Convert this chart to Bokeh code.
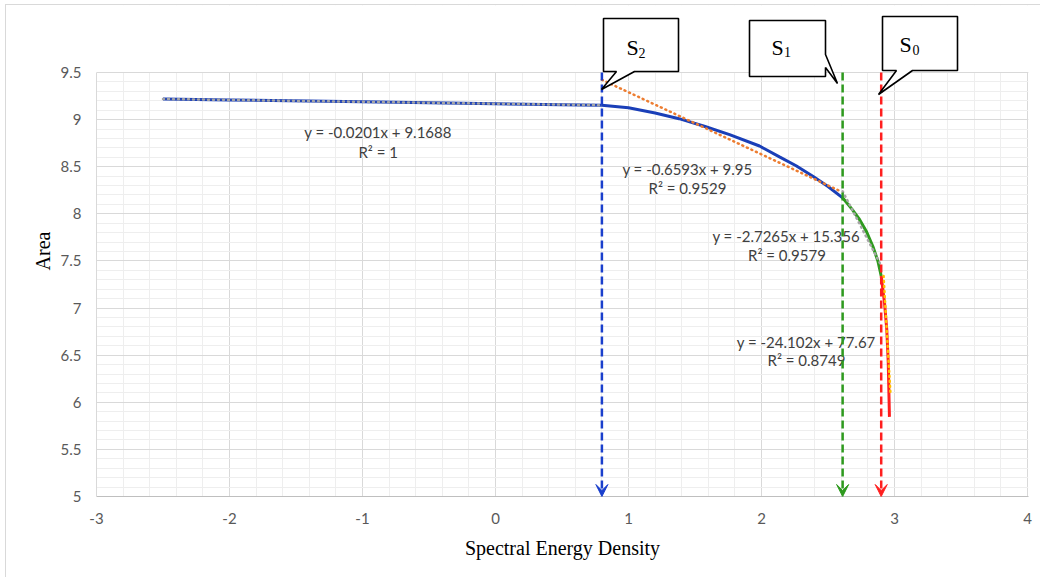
import numpy as np
from bokeh.plotting import figure
from bokeh.models import (Range1d, SingleIntervalTicker, NumeralTickFormatter, Label,
                          PolyAnnotation, Arrow, VeeHead)
from bokeh.embed import file_html
from bokeh.resources import INLINE

# ---------------- data ----------------
# curve segments (Spectral Energy Density, Area)
seg1_x = [-2.5, -2.0, -1.0, 0.0, 0.5, 0.8]
seg1_y = [9.219, 9.209, 9.189, 9.169, 9.159, 9.153]
seg2_x = [0.8, 1.0, 1.2, 1.38, 1.57, 1.76, 1.985, 2.135, 2.26, 2.386, 2.5, 2.61]
seg2_y = [9.153, 9.125, 9.07, 9.01, 8.93, 8.84, 8.72, 8.605, 8.51, 8.40, 8.29, 8.17]
seg3_x = [2.61, 2.68, 2.737, 2.79, 2.837, 2.875, 2.90]
seg3_y = [8.17, 8.05, 7.94, 7.81, 7.656, 7.50, 7.34]
seg4_x = [2.90, 2.925, 2.942, 2.953, 2.962]
seg4_y = [7.34, 7.055, 6.77, 6.42, 5.845]
seg_colors = ["#1a3fb8", "#1a3fb8", "#2e9a1e", "#ff1f1f"]

# linear trend lines
trend_slopes = [-0.0201, -0.6593, -2.7265, -24.102]
trend_intercepts = [9.1688, 9.95, 15.356, 77.67]
trend_r2 = ["1", "0.9529", "0.9579", "0.8749"]
trend_x_from = [-2.5, 0.8, 2.61, 2.918]
trend_x_to = [0.8, 2.6, 2.9, 2.97]
trend_colors = ["#a5a5a5", "#ed7d31", "#a5a5a5", "#ffc000"]

# stage markers
stage_names = ["2", "1", "0"]
stage_x = [0.8, 2.61, 2.9]
stage_colors = ["#1a3fcc", "#2e9a1e", "#ff1f1f"]

x_label = "Spectral Energy Density"
y_label = "Area"
x_min, x_max = -3, 4
y_min, y_max = 5, 9.5

# ---------------- helpers (page pixel -> data, for annotations) ----------------
PX_PER_X = 133.0
PX_PER_Y = 94.2

def X(px):
    return (px - 496.0) / PX_PER_X

def Y(py):
    return 9.5 - (py - 73.0) / PX_PER_Y

# canvas sits at page (7, 6) because of the css border/margin
p = figure(width=1035, height=573,
           x_range=Range1d(x_min, x_max + 1.0 / PX_PER_X), y_range=Range1d(y_min, Y(6)),
           output_backend="svg", toolbar_location=None,
           min_border_left=90, min_border_right=13, min_border_top=0, min_border_bottom=82,
           styles={"margin-left": "5px", "margin-top": "4px",
                   "border-left": "1px solid #d9d9d9", "border-top": "1px solid #d9d9d9"})
p.background_fill_color = "white"
p.border_fill_color = "white"
p.outline_line_color = None

xt = SingleIntervalTicker(interval=1, num_minor_ticks=5)
yt = SingleIntervalTicker(interval=0.5, num_minor_ticks=5)
p.xaxis.ticker = xt
p.yaxis.ticker = yt
p.xgrid.ticker = xt
p.ygrid.ticker = yt
for g in (p.xgrid, p.ygrid):
    g.grid_line_color = "#d9d9d9"
    g.grid_line_width = 1
    g.minor_grid_line_color = "#eeeeee"
    g.minor_grid_line_width = 1

p.xaxis.formatter = NumeralTickFormatter(format="0")
p.yaxis.formatter = NumeralTickFormatter(format="0.[0]")
p.yaxis.bounds = (y_min, y_max)
for ax in (p.xaxis, p.yaxis):
    ax.major_tick_line_color = None
    ax.minor_tick_line_color = None
    ax.major_label_text_font = "Lato"
    ax.major_label_text_font_size = "15px"
    ax.major_label_text_color = "#595959"
    ax.axis_label_text_font = "Liberation Serif"
    ax.axis_label_text_font_size = "20px"
    ax.axis_label_text_font_style = "normal"
    ax.axis_label_text_color = "black"
p.xaxis.major_label_standoff = 10
p.yaxis.major_label_standoff = 9
p.xaxis.axis_line_color = "#bfbfbf"
p.yaxis.axis_line_color = "#d9d9d9"
p.xaxis.axis_label = x_label
p.yaxis.axis_label = y_label
p.xaxis.axis_label_standoff = 10
p.yaxis.axis_label_standoff = 4

# white mask above the plot area (callout zone)
p.quad(left=[x_min], right=[x_max + 1.0], bottom=[y_max + 0.6 / PX_PER_Y], top=[Y(0)],
       fill_color="white", line_color=None)

# curve
segs = [(seg1_x, seg1_y), (seg2_x, seg2_y), (seg3_x, seg3_y), (seg4_x, seg4_y)]
for (sx, sy), c in zip(segs, seg_colors):
    p.line(sx, sy, line_color=c, line_width=3)

# trend lines
for m, b, x0, x1, c in zip(trend_slopes, trend_intercepts, trend_x_from, trend_x_to, trend_colors):
    p.line([x0, x1], [m * x0 + b, m * x1 + b], line_color=c, line_width=2.5,
           line_dash="1 4", line_cap="round")

# equation labels
eq_pos = [(378.5, 132, 378.7, 152), (688, 169, 688, 188), (786.7, 236, 787.5, 255), (806.7, 342, 807, 360)]
for m, b, r2, (ex, ey, rx, ry) in zip(trend_slopes, trend_intercepts, trend_r2, eq_pos):
    txt = "y = %sx + %s" % (repr(m), repr(b))
    p.add_layout(Label(x=X(ex), y=Y(ey), text=txt, text_align="center", text_baseline="middle",
                       text_font="Lato", text_font_size="15px", text_color="#404040"))
    p.add_layout(Label(x=X(rx), y=Y(ry), text="R\u00b2 = " + r2, text_align="center", text_baseline="middle",
                       text_font="Lato", text_font_size="15px", text_color="#404040"))

# vertical dashed arrows
for sx, c in zip(stage_x, stage_colors):
    p.add_layout(Arrow(end=VeeHead(size=12, fill_color=c, line_color=c, line_width=1),
                       x_start=sx, y_start=y_max, x_end=sx, y_end=y_min,
                       line_color=c, line_width=2.5, line_dash="8 4"))

# callouts
callouts = [
    [(604, 19), (679, 19), (679, 72), (635, 72), (602, 90), (617, 72), (604, 72)],
    [(750, 21), (826, 21), (826, 55), (838, 84), (826, 68), (826, 77), (750, 77)],
    [(883, 17), (958, 17), (958, 71), (913, 71), (879, 95), (897, 71), (883, 71)],
]
s_pos = [(627, 48, 639, 53), (772, 47.5, 784.5, 52.5), (900, 45, 913, 50)]
for poly, name, (sx, sy, ssx, ssy) in zip(callouts, stage_names, s_pos):
    p.add_layout(PolyAnnotation(xs=[X(a) for a, _ in poly], ys=[Y(b) for _, b in poly],
                                fill_color="white", fill_alpha=1.0,
                                line_color="black", line_alpha=1.0, line_width=1.6))
    p.add_layout(Label(x=X(sx), y=Y(sy), text="S", text_align="left", text_baseline="alphabetic",
                       text_font="Liberation Serif", text_font_size="22px", text_color="black"))
    p.add_layout(Label(x=X(ssx), y=Y(ssy), text=name, text_align="left", text_baseline="alphabetic",
                       text_font="Liberation Serif", text_font_size="14px", text_color="black"))

open("out.html", "w").write(file_html(p, INLINE))
